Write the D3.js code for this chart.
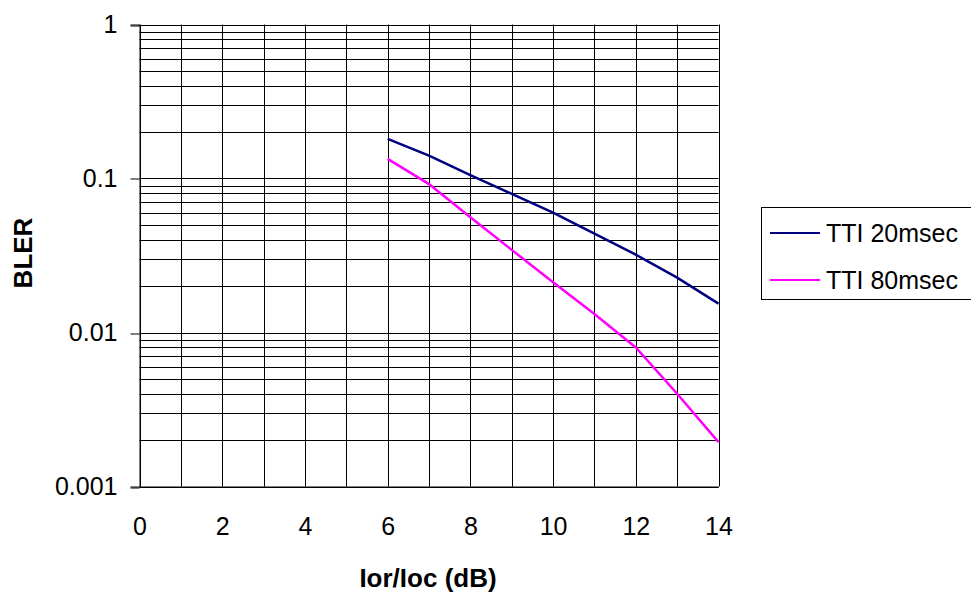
<!DOCTYPE html>
<html><head><meta charset="utf-8">
<script src="https://cdn.jsdelivr.net/npm/d3@7"></script>
<style>
body{margin:0;background:#fff;}
text{font-family:"Liberation Sans",Arial,sans-serif;}
</style></head>
<body><svg id="c" width="971" height="595"></svg>
<script>
const xValues = [6, 7, 8, 9, 10, 11, 12, 13, 14];
const tti20 = [0.181, 0.141, 0.105, 0.0795, 0.060, 0.0438, 0.032, 0.0227, 0.0154];
const tti80 = [0.134, 0.092, 0.056, 0.0344, 0.0212, 0.0132, 0.0080, 0.0040, 0.00194];
const seriesNames = ["TTI 20msec", "TTI 80msec"];
const seriesColors = ["#000080", "#FF00FF"];
const xTicks = [0, 2, 4, 6, 8, 10, 12, 14];
const yTicks = [0.001, 0.01, 0.1, 1];
const yTickLabels = ["0.001", "0.01", "0.1", "1"];

const svg = d3.select("#c");
const L = 139.5, R = 718.5, T = 24.5, B = 486.5;
const x = d3.scaleLinear().domain([0, 14]).range([L, R]);
const y = d3.scaleLog().domain([0.001, 1]).range([B, T]);

const g = svg.append("g");
g.selectAll(".vg").data(d3.range(0, 15)).enter().append("line")
  .attr("x1", d => Math.round(x(d)) + 0.5).attr("x2", d => Math.round(x(d)) + 0.5)
  .attr("y1", T).attr("y2", B).attr("stroke", "#000").attr("stroke-width", 1);
const yGrid = [];
[0.001, 0.01, 0.1].forEach(d => { for (let k = 1; k <= 9; k++) yGrid.push(d * k); });
yGrid.push(1);
g.selectAll(".hg").data(yGrid).enter().append("line")
  .attr("x1", L).attr("x2", R)
  .attr("y1", d => Math.round(y(d)) + 0.5).attr("y2", d => Math.round(y(d)) + 0.5)
  .attr("stroke", "#000").attr("stroke-width", 1);

const yAxis = d3.axisLeft(y).tickValues(yTicks).tickSize(9).tickPadding(13)
  .tickFormat((d, i) => yTickLabels[i]);
const ya = svg.append("g").attr("transform", `translate(${L},0)`).call(yAxis);
ya.select(".domain").attr("stroke", "#000");
ya.selectAll(".tick line").attr("stroke", "#000")
  .attr("transform", d => `translate(0,${Math.round(y(d)) + 0.5 - y(d)})`);
ya.selectAll("text").attr("font-size", 25).attr("fill", "#000").attr("font-family", "Liberation Sans, Arial, sans-serif").attr("dy", "0.32em");

const xAxis = d3.axisBottom(x).tickValues(xTicks).tickSize(0).tickPadding(31);
const xa = svg.append("g").attr("transform", `translate(0,${B})`).call(xAxis);
xa.select(".domain").attr("stroke", "#000");
xa.selectAll("text").attr("font-size", 25).attr("fill", "#000").attr("font-family", "Liberation Sans, Arial, sans-serif");

const line = d3.line().x((d, i) => x(xValues[i])).y(d => y(d));
[tti20, tti80].forEach((s, i) => {
  svg.append("path").datum(s).attr("d", line).attr("fill", "none")
    .attr("stroke", seriesColors[i]).attr("stroke-width", 2.5);
});

svg.append("text").attr("x", 428).attr("y", 587).attr("text-anchor", "middle")
  .attr("font-size", 26).attr("font-weight", "bold").text("Ior/Ioc (dB)");
svg.append("text").attr("transform", "translate(32,253) rotate(-90)").attr("text-anchor", "middle")
  .attr("font-size", 26).attr("font-weight", "bold").text("BLER");

const lg = svg.append("g");
lg.append("rect").attr("x", 761.5).attr("y", 207.5).attr("width", 220).attr("height", 92)
  .attr("fill", "#fff").attr("stroke", "#000").attr("stroke-width", 1);
seriesNames.forEach((n, i) => {
  const yy = 233 + i * 47;
  lg.append("line").attr("x1", 770).attr("x2", 820).attr("y1", yy).attr("y2", yy)
    .attr("stroke", seriesColors[i]).attr("stroke-width", 2);
  lg.append("text").attr("x", 826).attr("y", yy).attr("dy", "0.35em")
    .attr("font-size", 25).text(n);
});
</script></body></html>
